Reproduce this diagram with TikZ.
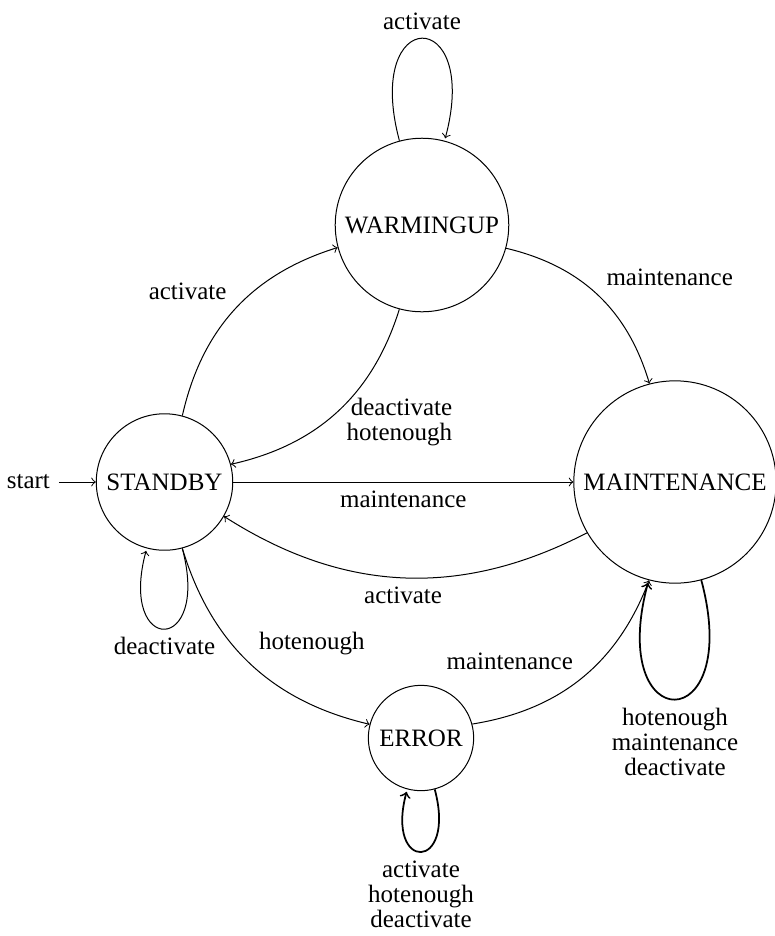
\documentclass[tikz,border=0pt]{standalone}
\usepackage{fontspec}
\setmainfont{Liberation Serif}
\usetikzlibrary{automata}
\begin{document}
\begin{tikzpicture}[x=0.4pt,y=0.4pt,->,auto,
  font=\fontsize{10}{10}\selectfont,
  initial distance=14.8pt,
  heavyloop/.style={line width=0.7pt},
  stack/.style={align=center}]
\useasboundingbox (0,0) rectangle (775,-936);

% states
\node[state,initial] (S) at (164.5,-482) {STANDBY};
\node[state] (W) at (422,-225) {WARMINGUP};
\node[state] (M) at (675,-482) {MAINTENANCE};
\node[state] (E) at (421,-738) {ERROR};

% transitions
\path (S) edge[bend left] node {activate} (W)
      (W) edge[bend left] node[align=right,yshift=9pt] {deactivate\\hotenough} (S)
      (W) edge[loop above] node {activate} ()
      (W) edge[bend left] node {maintenance} (M)
      (S) edge node[below] {maintenance} (M)
      (M) edge[bend left] node {activate} (S)
      (S) edge[loop below] node {deactivate} ()
      (S) edge[bend right] node {hotenough} (E)
      (E) edge[bend right] node {maintenance} (M)
      (M) edge[loop below,heavyloop] node[stack] {hotenough\\maintenance\\deactivate} ()
      (E) edge[loop below,heavyloop] node[stack] {activate\\hotenough\\deactivate} ();
\end{tikzpicture}
\end{document}
